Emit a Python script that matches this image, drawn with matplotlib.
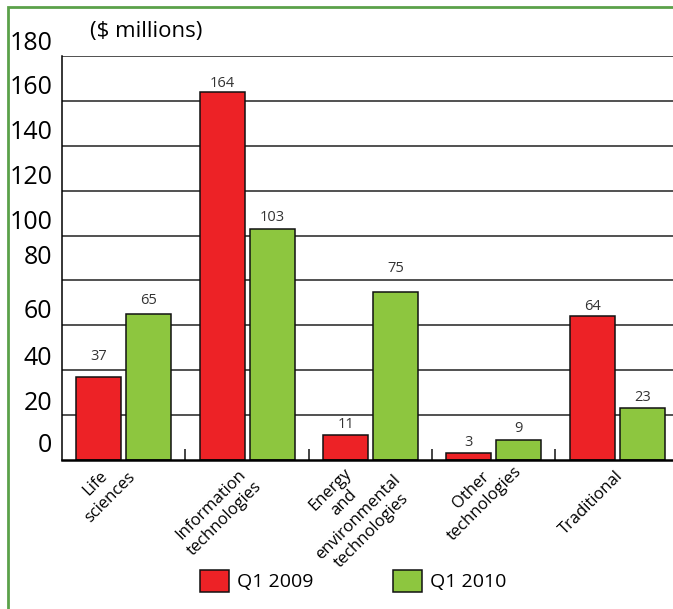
import matplotlib.pyplot as plt
import matplotlib.transforms as mtransforms
from matplotlib.patches import Rectangle
import numpy as np

plt.rcParams['font.family'] = ['Open Sans', 'DejaVu Sans']

categories = ["Life\nsciences", "Information\ntechnologies",
              "Energy\nand\nenvironmental\ntechnologies",
              "Other\ntechnologies", "Traditional"]
q1_2009 = [37, 164, 11, 3, 64]
q1_2010 = [65, 103, 75, 9, 23]
y_ticks = [0, 20, 40, 60, 80, 100, 120, 140, 160, 180]

RED = '#ED2226'
GREEN = '#8DC63F'

fig = plt.figure(figsize=(6.73, 6.09), dpi=100)
W, H = 673, 609

# green frame round the figure (only top and left edges show)
fig.patches.append(Rectangle((8 / W, -0.05), 1.1, 1 - 7 / H + 0.05,
                             transform=fig.transFigure, fill=False,
                             edgecolor='#5BA14A', linewidth=2.0))

ax = fig.add_axes([62 / W, 149 / H, 616.5 / W, 404 / H])

x = np.arange(len(categories))
w = 0.365
b1 = ax.bar(x - 0.2, q1_2009, w, color=RED, edgecolor='#111111', linewidth=1.1,
            label='Q1 2009', zorder=3)
b2 = ax.bar(x + 0.205, q1_2010, w, color=GREEN, edgecolor='#111111', linewidth=1.1,
            label='Q1 2010', zorder=3)

# value labels, lifted in px above bar tops (as in the original)
lift1 = [20, 8, 11, 11, 10]
lift2 = [14, 11, 23, 11, 11]
for rect, v, d in zip(b1, q1_2009, lift1):
    ax.annotate(str(v), (rect.get_x() + rect.get_width() / 2, v),
                xytext=(0, d * 0.72), textcoords='offset points',
                ha='center', va='center', fontsize=10.5, color='#333333')
for rect, v, d in zip(b2, q1_2010, lift2):
    ax.annotate(str(v), (rect.get_x() + rect.get_width() / 2, v),
                xytext=(0, d * 0.72), textcoords='offset points',
                ha='center', va='center', fontsize=10.5, color='#333333')

ax.set_xlim(-0.5, 4.5)
ax.set_ylim(0, 180)

# horizontal rules
for t in y_ticks[1:]:
    ax.axhline(t, color='#222222', linewidth=1.1, zorder=1)

ax.spines['right'].set_visible(False)
ax.spines['top'].set_visible(False)
ax.spines['left'].set_linewidth(1.1)
ax.spines['bottom'].set_linewidth(1.8)
ax.spines['bottom'].set_zorder(4)

ax.set_yticks(y_ticks)
ax.set_yticklabels([str(t) for t in y_ticks], fontsize=18)
ax.tick_params(axis='y', length=0, pad=7)
# tick labels sit above their rules in the original
shift = [17, 15, 15, 17, 26, 16, 16, 16, 16, 16]
for lab, s in zip(ax.get_yticklabels(), shift):
    lab.set_transform(lab.get_transform() +
                      mtransforms.ScaledTranslation(0, s / 100, fig.dpi_scale_trans))

# category labels: centred blocks, nudged (px) from the tick like the original
ax.set_xticks(x)
ax.set_xticklabels(categories, fontsize=12, rotation=45, ha='center', va='center',
                   rotation_mode='anchor', multialignment='center',
                   linespacing=1.3)
ax.tick_params(axis='x', length=0, pad=0)
nudge = [(-21, 30), (-29, 52), (-19, 50), (-16, 37), (-25, 43)]
for lab, (dx, dy) in zip(ax.get_xticklabels(), nudge):
    lab.set_transform(lab.get_transform() +
                      mtransforms.ScaledTranslation(dx / 100, -dy / 100,
                                                    fig.dpi_scale_trans))
ax.set_xticks(x[:-1] + 0.5, minor=True)
ax.tick_params(axis='x', which='minor', direction='in', length=8, width=1.1,
               color='#111111')

fig.text(90 / W, 1 - 31 / H, '($ millions)', fontsize=16, va='center', ha='left')

fig.legend(handles=[b1, b2], loc='center left',
           bbox_to_anchor=(200 / W, 1 - 581 / H), ncol=2, frameon=False,
           fontsize=14, handlelength=1.49, handleheight=1.44,
           handletextpad=0.42, columnspacing=4.1, borderpad=0, borderaxespad=0)

fig.savefig('out.png', dpi=100)
